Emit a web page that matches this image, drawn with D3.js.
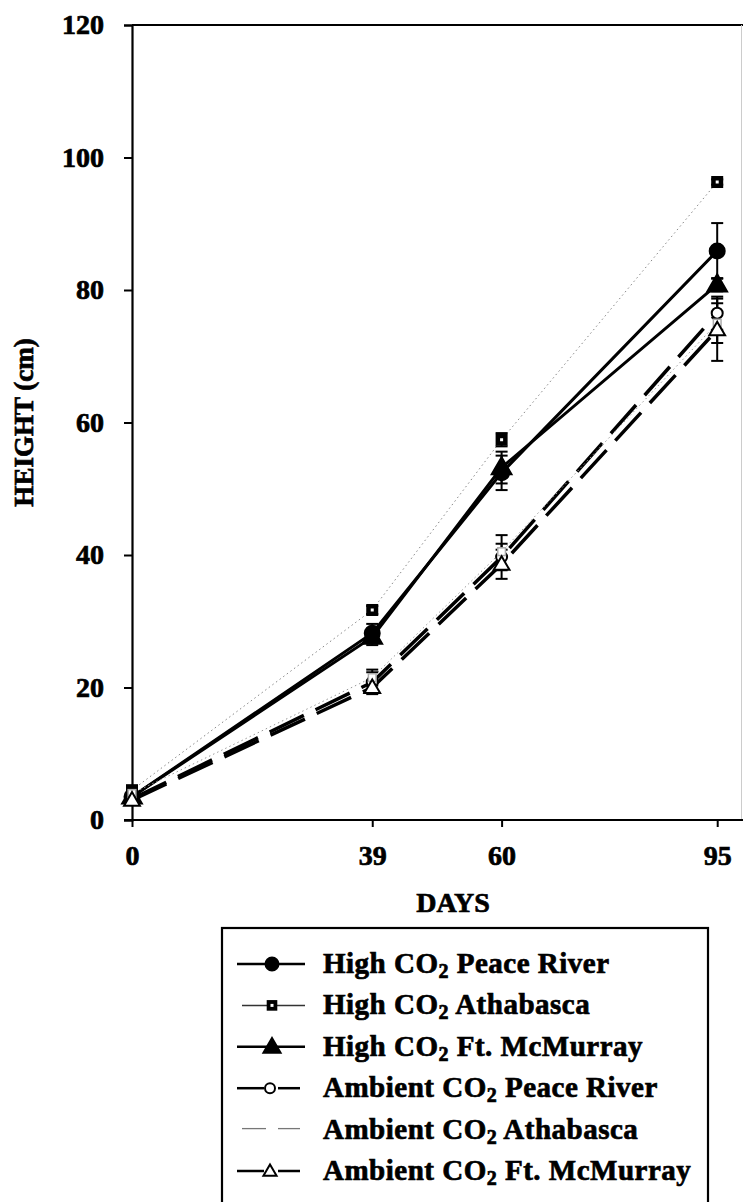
<!DOCTYPE html>
<html>
<head>
<meta charset="utf-8">
<script src="https://cdn.jsdelivr.net/npm/d3@7"></script>
<style>
  html, body { margin: 0; padding: 0; background: #fff; }
  svg { display: block; }
  text { font-family: "Liberation Serif", "Times New Roman", serif; font-weight: bold; fill: #000; stroke: #000; stroke-width: 0.7px; }
</style>
</head>
<body>
<svg id="chart" width="743" height="1202"></svg>
<script>
// Sampling days
const days = [0, 39, 60, 95];

// Mean heights (cm)
const highPeace      = [3.5, 28.2, 52.4, 85.9];
const highAthabasca  = [4.5, 31.7, 57.4, 96.3];
const highMcMurray   = [3.5, 27.6, 53.2, 80.8];
const ambPeace       = [3.2, 20.8, 39.7, 76.5];
const ambAthabasca   = [4.0, 21.5, 40.5, 75.0];
const ambMcMurray    = [3.0, 20.0, 38.6, 74.0];

// Standard errors (cm)
const highPeaceErr     = [0.6, 1.4, 2.6, 4.2];
const highAthabascaErr = [0.5, 0.6, 1.0, 0.4];
const highMcMurrayErr  = [0.6, 1.2, 2.4, 1.0];
const ambPeaceErr      = [0.5, 1.5, 2.0, 2.5];
const ambAthabascaErr  = [0.5, 1.2, 2.5, 3.0];
const ambMcMurrayErr   = [0.5, 1.0, 2.2, 4.7];

const seriesLabels = [
  ["High CO", "2", " Peace River"],
  ["High CO", "2", " Athabasca"],
  ["High CO", "2", " Ft. McMurray"],
  ["Ambient CO", "2", " Peace River"],
  ["Ambient CO", "2", " Athabasca"],
  ["Ambient CO", "2", " Ft. McMurray"]
];

const yTicks = [0, 20, 40, 60, 80, 100, 120];
const xTicks = [0, 39, 60, 95];

const xTitle = "DAYS";
const yTitle = "HEIGHT (cm)";

// Visual style per series: marker shape, line style
const styles = [
  { marker: "circle",   fill: "#000", stroke: "#000", width: 3,   dash: null,    lineColor: "#000", size: 15 },
  { marker: "square",   fill: "#000", stroke: "#000", width: 1,   dash: "1.5,3", lineColor: "#888", size: 15 },
  { marker: "triangle", fill: "#000", stroke: "#000", width: 3,   dash: null,    lineColor: "#000", size: 15 },
  { marker: "circle",   fill: "#fff", stroke: "#000", width: 3.5, dash: "38,13", lineColor: "#000", size: 11 },
  { marker: "square",   fill: "#fff", stroke: "#aaa", width: 1,   dash: "1.5,3", lineColor: "#999", size: 11 },
  { marker: "triangle", fill: "#fff", stroke: "#000", width: 3.5, dash: "38,13", lineColor: "#000", size: 12 }
];

const means = [highPeace, highAthabasca, highMcMurray, ambPeace, ambAthabasca, ambMcMurray];
const errs  = [highPeaceErr, highAthabascaErr, highMcMurrayErr, ambPeaceErr, ambAthabascaErr, ambMcMurrayErr];

const series = seriesLabels.map((lab, i) => ({
  label: lab,
  style: styles[i],
  points: days.map((d, j) => ({ day: d, value: means[i][j], err: errs[i][j] }))
}));

const svg = d3.select("#chart");

const x = d3.scaleLinear().domain([0, 100]).range([132, 748]);
const y = d3.scaleLinear().domain([0, 120]).range([820, 25]);

// Plot frame (top and right edges)
svg.append("line").attr("x1", 132).attr("x2", 743).attr("y1", y(120)).attr("y2", y(120))
  .attr("stroke", "#000").attr("stroke-width", 2.2);
svg.append("line").attr("x1", 741.5).attr("x2", 741.5).attr("y1", y(120)).attr("y2", y(0))
  .attr("stroke", "#ccc").attr("stroke-width", 1);

// Y axis
const yAxis = d3.axisLeft(y).tickValues(yTicks).tickSize(8).tickPadding(20).tickFormat(d3.format("d"));
const gy = svg.append("g").attr("transform", `translate(${x(0)},0)`).call(yAxis);
gy.select(".domain").attr("stroke-width", 2.2);
gy.selectAll(".tick line").attr("stroke-width", 2);
gy.selectAll(".tick text").attr("font-size", 28).attr("font-family", "Liberation Serif, serif").attr("font-weight", "bold");

// X axis
const xAxis = d3.axisBottom(x).tickValues(xTicks).tickSize(7).tickPadding(18).tickFormat(d3.format("d"));
const gx = svg.append("g").attr("transform", `translate(0,${y(0)})`).call(xAxis);
gx.select(".domain").attr("d", `M${x(0) - 8},0H743`).attr("stroke-width", 2.2);
gx.selectAll(".tick line").attr("stroke-width", 2);
gx.selectAll(".tick text").attr("font-size", 28).attr("font-family", "Liberation Serif, serif").attr("font-weight", "bold");

// Axis titles
svg.append("text").attr("x", 453).attr("y", 912).attr("text-anchor", "middle")
  .attr("font-size", 28).text(xTitle);
svg.append("text").attr("transform", `translate(33,${(y(0) + y(120)) / 2}) rotate(-90)`)
  .attr("text-anchor", "middle").attr("font-size", 27).text(yTitle);

// Marker drawing
function drawMarker(g, shape, cx, cy, st, size) {
  if (shape === "circle") {
    g.append("circle").attr("cx", cx).attr("cy", cy).attr("r", size * 0.5)
      .attr("fill", st.fill).attr("stroke", st.stroke).attr("stroke-width", 2);
  } else if (shape === "square") {
    const s = size * 0.7;
    g.append("rect").attr("x", cx - s / 2).attr("y", cy - s / 2).attr("width", s).attr("height", s)
      .attr("fill", st.fill).attr("stroke", st.stroke).attr("stroke-width", 1.5);
    if (st.fill === "#000") {
      g.append("rect").attr("x", cx - 1.5).attr("y", cy - 1.5).attr("width", 3).attr("height", 3).attr("fill", "#fff");
    }
  } else {
    const sym = d3.symbol().type(d3.symbolTriangle).size(size * size * 0.75);
    g.append("path").attr("d", sym()).attr("transform", `translate(${cx},${cy + 1})`)
      .attr("fill", st.fill).attr("stroke", st.stroke).attr("stroke-width", 2);
  }
}

const line = d3.line().x(d => x(d.day)).y(d => y(d.value));

// Lines
const plot = svg.append("g");
series.forEach(s => {
  plot.append("path").datum(s.points).attr("d", line)
    .attr("fill", "none").attr("stroke", s.style.lineColor)
    .attr("stroke-width", s.style.width)
    .attr("stroke-dasharray", s.style.dash)
    .attr("stroke-linecap", "butt");
});

// Error bars
series.forEach(s => {
  s.points.forEach(p => {
    const g = plot.append("g").attr("stroke", "#000").attr("stroke-width", 2);
    g.append("line").attr("x1", x(p.day)).attr("x2", x(p.day))
      .attr("y1", y(p.value - p.err)).attr("y2", y(p.value + p.err));
    [p.value - p.err, p.value + p.err].forEach(v => {
      g.append("line").attr("x1", x(p.day) - 6).attr("x2", x(p.day) + 6)
        .attr("y1", y(v)).attr("y2", y(v));
    });
  });
});

// Markers
series.forEach(s => {
  s.points.forEach(p => {
    drawMarker(plot, s.style.marker, x(p.day), y(p.value), s.style, s.style.size);
  });
});

// Legend
const lg = svg.append("g");
const legTop = 928, legLeft = 222, legRight = 708, rowStep = 41.4, firstRow = 964;
lg.append("rect").attr("x", legLeft).attr("y", legTop).attr("width", legRight - legLeft).attr("height", 300)
  .attr("fill", "none").attr("stroke", "#000").attr("stroke-width", 2.2);

series.forEach((s, i) => {
  const cy = firstRow + i * rowStep;
  const st = s.style;
  const sx0 = 237, sx1 = 305, mx = 272;
  if (i < 3) {
    lg.append("line").attr("x1", i === 1 ? 242 : sx0).attr("x2", sx1).attr("y1", cy).attr("y2", cy)
      .attr("stroke", i === 1 ? "#333" : "#000").attr("stroke-width", i === 1 ? 1.5 : 2.5);
  } else if (i === 4) {
    lg.append("line").attr("x1", 242).attr("x2", 266).attr("y1", cy - 1).attr("y2", cy - 1)
      .attr("stroke", "#777").attr("stroke-width", 1.3);
    lg.append("line").attr("x1", 278).attr("x2", 300).attr("y1", cy - 1).attr("y2", cy - 1)
      .attr("stroke", "#777").attr("stroke-width", 1.3);
  } else {
    lg.append("line").attr("x1", sx0).attr("x2", 264).attr("y1", cy).attr("y2", cy)
      .attr("stroke", "#000").attr("stroke-width", 2.5);
    lg.append("line").attr("x1", 278).attr("x2", 300).attr("y1", cy).attr("y2", cy)
      .attr("stroke", "#000").attr("stroke-width", 2.5);
  }
  if (i !== 4) {
    const size = i < 3 ? 13 : 10;
    drawMarker(lg, st.marker, i === 3 || i === 5 ? 270 : mx, cy, st, size);
  }
  const t = lg.append("text").attr("x", 323).attr("y", cy + 9).attr("font-size", 29)
    .attr("letter-spacing", 0.5);
  t.append("tspan").text(s.label[0]);
  t.append("tspan").attr("font-size", 20).attr("dy", 5).text(s.label[1]);
  t.append("tspan").attr("dy", -5).text(s.label[2]);
});
</script>
</body>
</html>
